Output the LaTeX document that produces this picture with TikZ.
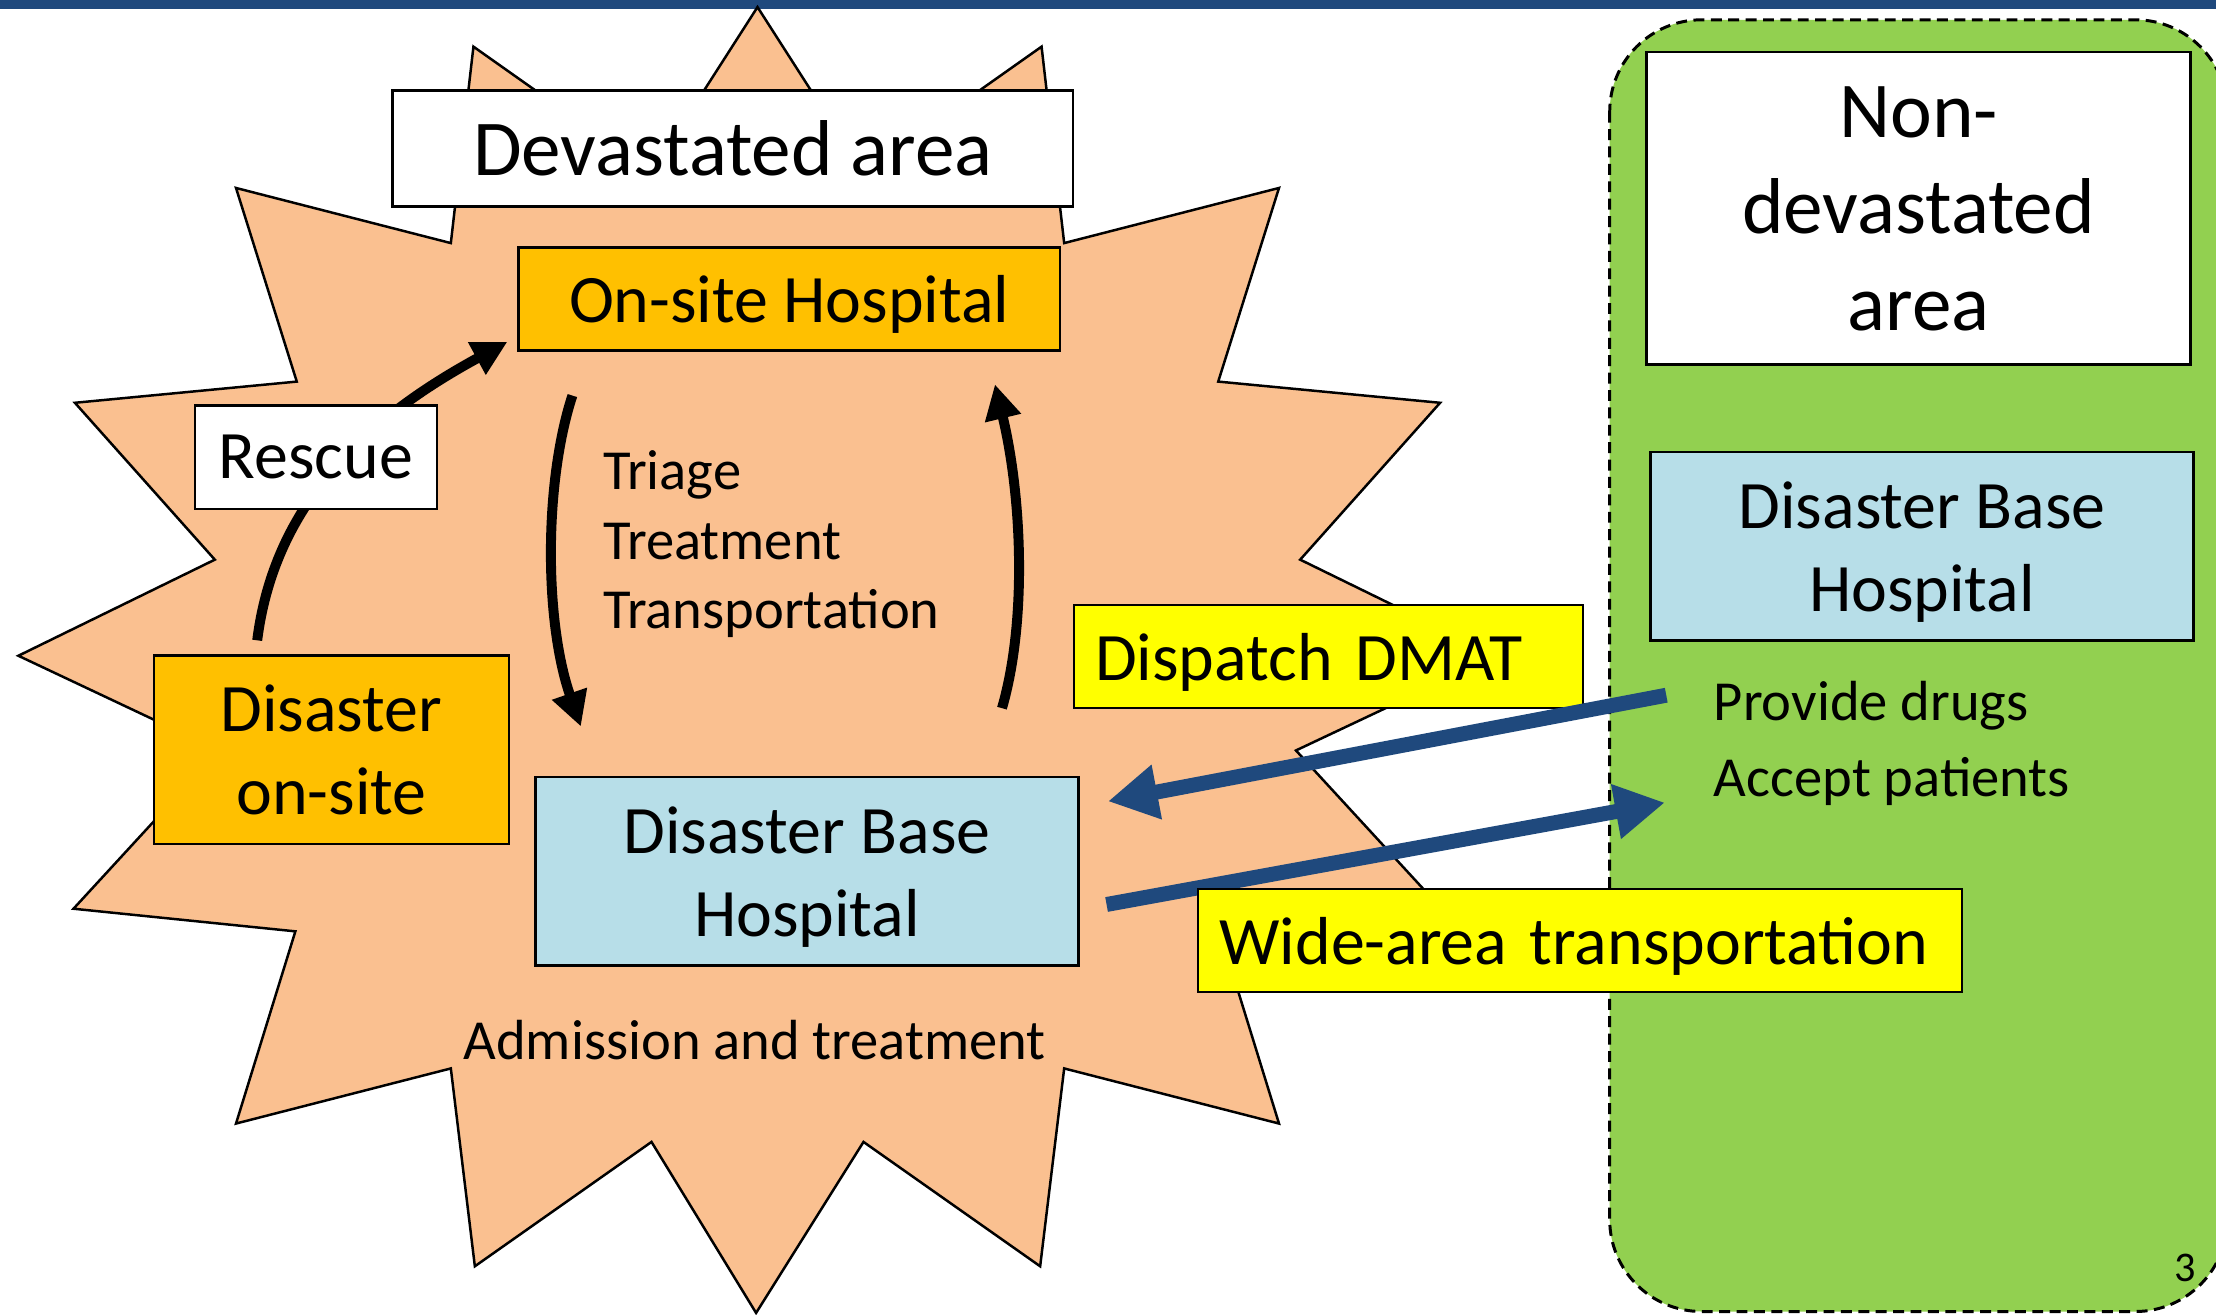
\documentclass[tikz,border=0pt]{standalone}
\usepackage{fontspec}
\setmainfont{Carlito}
\usetikzlibrary{arrows.meta, calc}
\definecolor{barblue}{HTML}{1F497D}
\definecolor{blastfill}{HTML}{FAC090}
\definecolor{siteorange}{HTML}{FFC000}
\definecolor{basecyan}{HTML}{B7DEE8}
\definecolor{tagyellow}{HTML}{FFFF00}
\definecolor{safegreen}{HTML}{92D050}

\begin{document}
\begin{tikzpicture}[
    x=0.01cm, y=-0.01cm,
    box/.style={draw=black, line width=0.5pt, inner sep=0pt, align=center, text depth=0pt,
                font=\fontsize{13.66}{16.7}\selectfont},
    bigbox/.style={box, fill=white, font=\fontsize{15.93}{19.4}\selectfont},
    tag/.style={box, fill=tagyellow, minimum height=0.73cm, inner xsep=0.15cm, align=left},
    note/.style={inner sep=0pt, font=\fontsize{11.38}{13.94}\selectfont},
    flow/.style={-{Triangle[length=7pt, width=7pt]}, line width=2pt, black},
    link/.style={-{Triangle[length=10pt, width=10.5pt]}, line width=3pt, barblue}
]
    \useasboundingbox (0,0) rectangle (1568,930);
    \fill[white] (0,0) rectangle (1568,930);
    \fill[barblue] (0,0) rectangle (1568,6.4);

    % non-devastated zone
    \draw[fill=safegreen, line width=0.6pt, dash pattern=on 2.2pt off 1.3pt, rounded corners=0.65cm]
        (1139,14) rectangle (1576,928);

    % devastated zone (16-point blast)
    \draw[fill=blastfill, line width=0.5pt, line join=miter]
        (536,5) -- (611,122) -- (737,33) -- (753,172) -- (905,133) -- (862,270)
        -- (1019,285) -- (920,396) -- (1059,464) -- (917,531) -- (1020,643)
        -- (863,659) -- (905,795) -- (753,756) -- (736,896) -- (611,808)
        -- (535,929) -- (461,808) -- (336,896) -- (319,756) -- (167,795)
        -- (209,659) -- (52,643) -- (155,531) -- (13,464) -- (152,396)
        -- (53,285) -- (210,270) -- (167,133) -- (319,172) -- (335,33)
        -- (461,122) -- cycle;

    % boxes inside the devastated zone
    \node[bigbox, minimum width=4.81cm, minimum height=0.82cm] (devastated) at (518.5,105) {Devastated area};
    \node[box, fill=siteorange, minimum width=3.83cm, minimum height=0.73cm] (onsite) at (558.5,211.5) {On-site Hospital};
    \node[box, fill=siteorange, minimum width=2.51cm, minimum height=1.33cm] (site) at (234.5,530.5) {Disaster\\on-site};
    \node[box, fill=basecyan, minimum width=3.84cm, minimum height=1.33cm] (dbh) at (571,616.5) {Disaster Base\\Hospital};

    % black flow arrows
    \draw[flow] ($(site.north)+(-52.5,-10)$) .. controls +(13,-104) and +(-90,49) .. ($(onsite.south west)+(-7,-7)$);
    \draw[flow] ($(onsite.south west)+(39,31)$) .. controls +(-20,61) and +(-26,-75) .. ($(dbh.north west)+(33,-35)$);
    \draw[flow] ($(dbh.north east)+(-55,-48)$) .. controls +(18,-62) and +(19,79) .. ($(onsite.south east)+(-47,23)$);

    \node[box, fill=white, minimum width=1.71cm, minimum height=0.73cm] (rescue) at (223.5,323.5) {Rescue};

    \node[note, anchor=west, align=left] (steps) at (426,385) {Triage\\Treatment\\Transportation};
    \node[note] (admit) at (534,736) {Admission and treatment};

    % boxes in the non-devastated zone
    \node[bigbox, minimum width=3.85cm, minimum height=2.21cm] (nondev) at (1357.5,147.5) {Non-\\devastated\\area};
    \node[box, fill=basecyan, minimum width=3.84cm, minimum height=1.33cm] (nondbh) at (1360,386.5) {Disaster Base\\Hospital};
    \node[note, anchor=west, align=left, font=\fontsize{11.38}{15.36}\selectfont] (offer) at (1212,526) {Provide drugs\\Accept patients};

    % links between the zones
    \node[tag, text width=3.3cm] (dispatch) at (940,464.5) {Dispatch DMAT};
    \draw[link] ($(nondbh.south west)+(12,38)$) -- ($(dbh.east)+(20,-49.5)$);
    \draw[link] ($(dbh.east)+(19,23.5)$) -- ($(nondbh.south west)+(11,114)$);
    \node[tag, text width=5.1cm] (wide) at (1118,665.5) {Wide-area transportation};

    \node[inner sep=0pt, font=\fontsize{8.5}{10}\selectfont] (page) at (1546,897) {3};
\end{tikzpicture}
\end{document}
